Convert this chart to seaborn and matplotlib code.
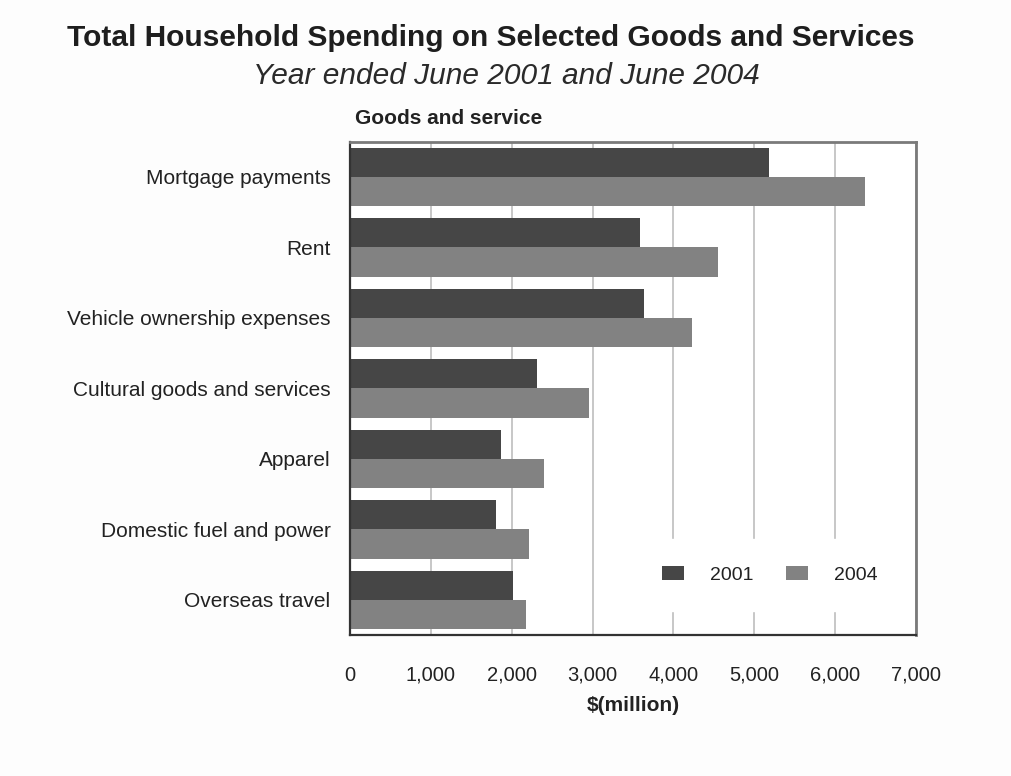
import matplotlib
matplotlib.use("Agg")
import matplotlib.pyplot as plt
import matplotlib.ticker as mticker
import pandas as pd
import seaborn as sns

# Spending by category, $ million
categories = [
    "Mortgage payments",
    "Rent",
    "Vehicle ownership expenses",
    "Cultural goods and services",
    "Apparel",
    "Domestic fuel and power",
    "Overseas travel",
]
spend_2001 = [5180, 3585, 3635, 2310, 1870, 1810, 2010]
spend_2004 = [6370, 4555, 4235, 2960, 2400, 2210, 2180]
years = ["2001", "2004"]
x_ticks = [0, 1000, 2000, 3000, 4000, 5000, 6000, 7000]

df = pd.DataFrame({
    "category": categories * 2,
    "year": [years[0]] * len(categories) + [years[1]] * len(categories),
    "value": spend_2001 + spend_2004,
})

sns.set_theme(style="white")
plt.rcParams["font.family"] = ["Liberation Sans", "DejaVu Sans"]

fig = plt.figure(figsize=(10.11, 7.76), dpi=100, facecolor="#fdfdfd")
ax = fig.add_axes([0.3462, 0.1817, 0.5598, 0.6357])
ax.set_facecolor("white")

sns.barplot(
    data=df, y="category", x="value", hue="year", orient="h",
    palette=["#464646", "#828282"], saturation=1, width=0.83,
    order=categories, hue_order=years, ax=ax, zorder=2, linewidth=0,
)

ax.set_xlim(0, 7000)
ax.set_xticks(x_ticks)
ax.xaxis.set_major_formatter(mticker.FuncFormatter(lambda v, p: f"{int(v):,}"))
ax.grid(axis="x", color="#bdbdbd", linewidth=1.2, zorder=0)
ax.grid(axis="y", visible=False)
ax.set_axisbelow(True)

ax.tick_params(axis="y", length=0, pad=14, labelsize=15, labelcolor="#222222")
ax.tick_params(axis="x", length=0, pad=22, labelsize=14.5, labelcolor="#222222")
ax.set_ylabel("")
ax.set_xlabel("$(million)", fontsize=15, fontweight="bold", color="#222222", labelpad=8)

for side in ("left", "bottom"):
    ax.spines[side].set_color("#333333")
    ax.spines[side].set_linewidth(1.6)
for side in ("top", "right"):
    ax.spines[side].set_color("#7a7a7a")
    ax.spines[side].set_linewidth(2)

leg = ax.legend(
    loc="center", bbox_to_anchor=(0.7616, 0.259), bbox_transform=fig.transFigure,
    ncol=2, frameon=True, fontsize=14, handlelength=1.13, handleheight=0.75,
    handletextpad=1.34, columnspacing=1.7, borderpad=1.4, title=None,
)
leg.get_frame().set_facecolor("white")
leg.get_frame().set_edgecolor("white")
leg.get_frame().set_alpha(1)
for t in leg.get_texts():
    t.set_color("#222222")

fig.text(0.485, 0.951, "Total Household Spending on Selected Goods and Services",
         ha="center", va="center", fontsize=21.5, fontweight="bold", color="#1e1e1e")
fig.text(0.501, 0.902, "Year ended June 2001 and June 2004",
         ha="center", va="center", fontsize=21.5, fontstyle="italic", color="#2a2a2a")
fig.text(0.351, 0.847, "Goods and service",
         ha="left", va="center", fontsize=15, fontweight="bold", color="#222222")

fig.savefig("out.png", dpi=100, facecolor=fig.get_facecolor())
